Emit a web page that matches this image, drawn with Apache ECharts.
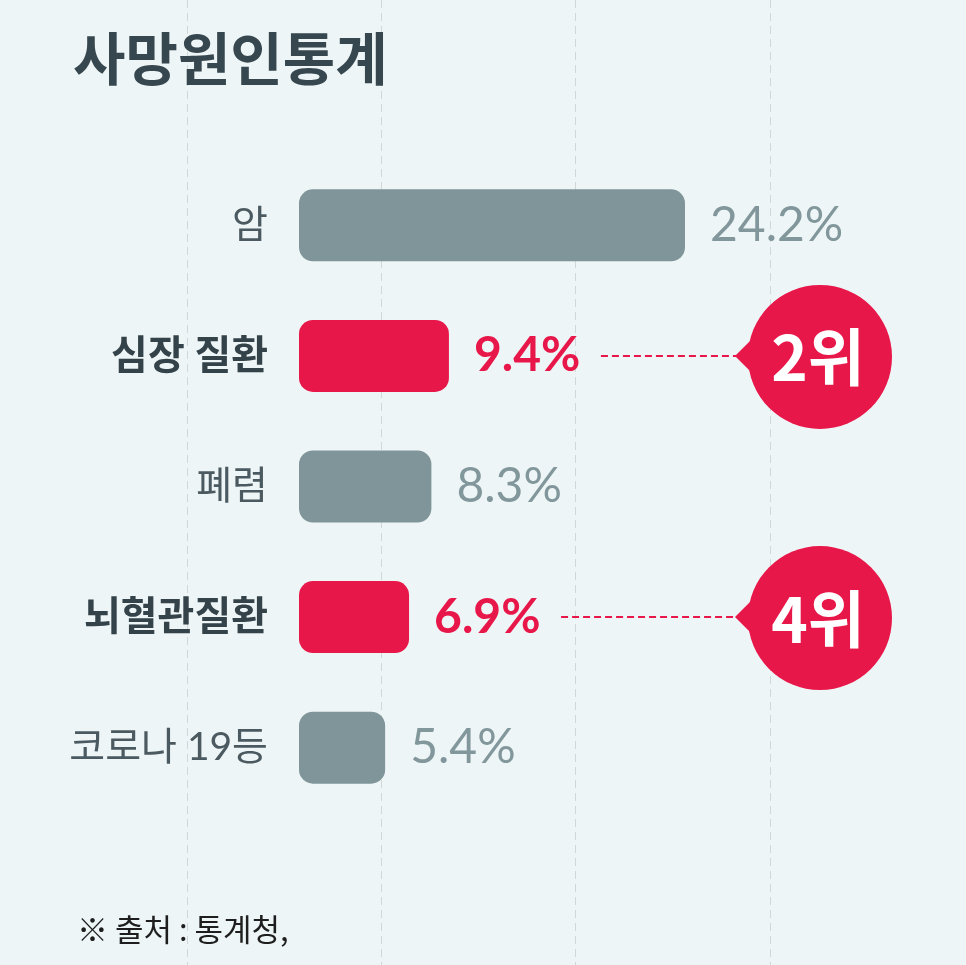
<!DOCTYPE html>
<html><head><meta charset="utf-8">
<script src="https://cdn.jsdelivr.net/npm/echarts@6/dist/echarts.min.js"></script>
<style>html,body{margin:0;padding:0;background:#eef5f6;}#c{width:966px;height:965px;}</style>
</head><body><div id="c"></div>
<script>
const categories = ['암', '심장 질환', '폐렴', '뇌혈관질환', '코로나 19등'];
const values = [24.2, 9.4, 8.3, 6.9, 5.4];
const highlighted = [false, true, false, true, false];
const ranks = ['', '2위', '', '4위', ''];
const titleText = '사망원인통계';
const sourceText = '※ 출처 : 통계청,';

const RED = '#e8174a', GRAY = '#7f959a', VGRAY = '#82979b';
const KR = '"Noto Sans CJK KR", "Noto Sans", sans-serif';
const LKR = 'Lato, "Noto Sans CJK KR", sans-serif';
const NUM = 'Lato, "Noto Sans", sans-serif';

const callouts = [];
ranks.forEach((r, i) => { if (r) callouts.push({ value: [values[i], i], rank: r }); });

const chart = echarts.init(document.getElementById('c'), null, { renderer: 'canvas' });
chart.setOption({
  backgroundColor: '#eef5f6',
  animation: false,
  title: [
    { text: titleText, left: 73, top: 29, padding: 0,
      textStyle: { fontFamily: KR, fontSize: 57, fontWeight: 'bold', color: '#37474f', lineHeight: 58 } },
    { text: sourceText, left: 77, top: 910, padding: 0,
      textStyle: { fontFamily: KR, fontSize: 31, fontWeight: 'normal', color: '#1e1e1e', lineHeight: 38 } }
  ],
  grid: [
    { left: 299, right: 29, top: 160, bottom: 152, containLabel: false },
    { left: 187, right: 196, top: 0, bottom: 0, containLabel: false }
  ],
  xAxis: [
    { gridIndex: 0, type: 'value', min: 0, max: 40, show: false },
    { gridIndex: 1, type: 'value', min: 0, max: 3, interval: 1,
      axisLabel: { show: false }, axisLine: { show: false }, axisTick: { show: false },
      splitLine: { show: true, showMinLine: true, showMaxLine: true,
        lineStyle: { color: '#cfd7d9', width: 1, type: [8, 5] } } }
  ],
  yAxis: [
    { gridIndex: 0, type: 'category', data: categories, inverse: true,
      axisLine: { show: false }, axisTick: { show: false }, splitLine: { show: false },
      axisLabel: {
        margin: 31,
        formatter: (v, idx) => highlighted[idx] ? '{b|' + v + '}' : '{n|' + v + '}',
        rich: {
          b: { fontFamily: LKR, fontSize: 40, fontWeight: 'bold', color: '#34424a' },
          n: { fontFamily: LKR, fontSize: 39, fontWeight: 'normal', color: '#4b5a60' }
        }
      } },
    { gridIndex: 1, type: 'value', show: false, min: 0, max: 1 }
  ],
  series: [
    {
      type: 'bar', xAxisIndex: 0, yAxisIndex: 0, barWidth: 72, z: 3,
      data: values.map((v, i) => ({
        value: v,
        itemStyle: { color: highlighted[i] ? RED : GRAY, borderRadius: 14 },
        label: {
          color: highlighted[i] ? RED : VGRAY,
          fontWeight: highlighted[i] ? 'bold' : 'normal'
        }
      })),
      label: {
        show: true, position: 'right', distance: 25,
        fontFamily: NUM, fontSize: 48,
        formatter: p => p.value + '%'
      }
    },
    {
      type: 'custom', xAxisIndex: 0, yAxisIndex: 0, z: 5, clip: false,
      data: callouts,
      renderItem: (params, api) => {
        const p = api.coord([api.value(0), api.value(1)]);
        const cy = p[1] + 1;
        const x0 = p[0] + 152;
        const cx = api.getWidth() - 146;
        const r = 72;
        const tip = cx - r - 13;
        const rank = callouts[params.dataIndex].rank;
        return {
          type: 'group',
          children: [
            { type: 'line', shape: { x1: x0, y1: cy - 1, x2: tip + 2, y2: cy - 1 },
              style: { stroke: RED, lineWidth: 2, lineDash: [7, 4] } },
            { type: 'polygon', shape: { points: [[tip, cy - 1], [cx - r + 6, cy - 20], [cx - r + 6, cy + 18]] },
              style: { fill: RED } },
            { type: 'circle', shape: { cx: cx, cy: cy, r: r }, style: { fill: RED } },
            { type: 'text', x: cx - 2, y: cy + 1,
              style: { text: rank, fill: '#ffffff', fontFamily: KR, fontSize: 62, fontWeight: 'bold',
                align: 'center', verticalAlign: 'middle' } }
          ]
        };
      }
    }
  ]
});
</script>
</body></html>
